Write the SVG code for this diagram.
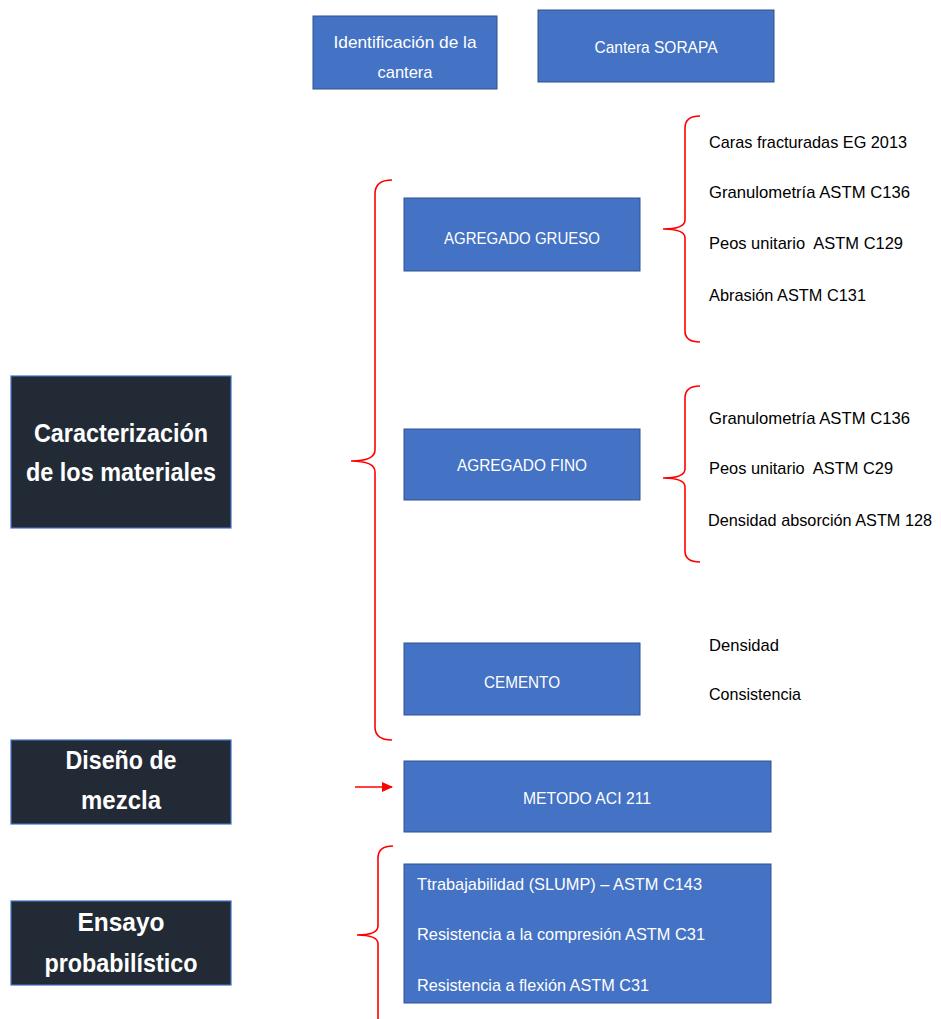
<svg xmlns="http://www.w3.org/2000/svg" width="941" height="1019" viewBox="0 0 941 1019">
<defs>
<style>
.bx{fill:#4472c4;stroke:#2f528f;stroke-width:1}
.dk{fill:#222a35;stroke:#4472c4;stroke-width:1.2}
.wt{font-family:"Liberation Sans",Arial,sans-serif;font-size:17px;fill:#ffffff;text-anchor:middle}
.wl{font-family:"Liberation Sans",Arial,sans-serif;font-size:17px;fill:#ffffff}
.bt{font-family:"Liberation Sans",Arial,sans-serif;font-size:17px;fill:#000000}
.hd{font-family:"Liberation Sans",Arial,sans-serif;font-size:26px;font-weight:bold;fill:#ffffff;text-anchor:middle}
.br{fill:none;stroke:#ff0000;stroke-width:1.6}
</style>
<marker id="ah" markerWidth="11" markerHeight="10" refX="10" refY="5" orient="auto" markerUnits="userSpaceOnUse">
<path d="M0,0 L11,5 L0,10 z" fill="#ff0000"/>
</marker>
</defs>
<rect width="941" height="1019" fill="#ffffff"/>

<g id="connectors">
<path class="br" d="M392,180 Q375,180 375,194 L375,450 Q375,461 351,461 Q375,461 375,472 L375,727 Q375,740 392,740"/>
<path class="br" d="M700,116 Q685,116 685,128 L685,220 Q685,229 663,229 Q685,229 685,238 L685,331 Q685,342 700,342"/>
<path class="br" d="M700,386 Q685,386 685,398 L685,469 Q685,478 663,478 Q685,478 685,487 L685,551 Q685,562 700,562"/>
<path class="br" d="M393,846 Q378,846 378,858 L378,926 Q378,935 357,935 Q378,935 378,944 L378,1019"/>
<line x1="355" y1="787" x2="392" y2="787" stroke="#ff0000" stroke-width="1.6" marker-end="url(#ah)"/>
</g>

<g id="n-identificacion">
<rect class="bx" x="313" y="16" width="184" height="73"/>
<text class="wt" x="405" y="48" textLength="143" lengthAdjust="spacingAndGlyphs">Identificación de la</text>
<text class="wt" x="405" y="78" textLength="55" lengthAdjust="spacingAndGlyphs">cantera</text>
</g>

<g id="n-sorapa">
<rect class="bx" x="538" y="10" width="236" height="72"/>
<text class="wt" x="656" y="53" textLength="123" lengthAdjust="spacingAndGlyphs">Cantera SORAPA</text>
</g>

<g id="n-caracterizacion">
<rect class="dk" x="11" y="376" width="220" height="152"/>
<text class="hd" x="121" y="442" textLength="174" lengthAdjust="spacingAndGlyphs">Caracterización</text>
<text class="hd" x="121" y="481" textLength="190" lengthAdjust="spacingAndGlyphs">de los materiales</text>
</g>

<g id="n-grueso">
<rect class="bx" x="404" y="198" width="236" height="73"/>
<text class="wt" x="522" y="244" textLength="156" lengthAdjust="spacingAndGlyphs">AGREGADO GRUESO</text>
</g>

<g id="t-grueso">
<text class="bt" x="709" y="148" textLength="198" lengthAdjust="spacingAndGlyphs">Caras fracturadas EG 2013</text>
<text class="bt" x="709" y="198" textLength="201" lengthAdjust="spacingAndGlyphs">Granulometría ASTM C136</text>
<text class="bt" x="709" y="249" textLength="194" lengthAdjust="spacingAndGlyphs">Peos unitario&#160; ASTM C129</text>
<text class="bt" x="709" y="301" textLength="157" lengthAdjust="spacingAndGlyphs">Abrasión ASTM C131</text>
</g>

<g id="n-fino">
<rect class="bx" x="404" y="429" width="236" height="71"/>
<text class="wt" x="522" y="471" textLength="130" lengthAdjust="spacingAndGlyphs">AGREGADO FINO</text>
</g>

<g id="t-fino">
<text class="bt" x="709" y="424" textLength="201" lengthAdjust="spacingAndGlyphs">Granulometría ASTM C136</text>
<text class="bt" x="709" y="474" textLength="184" lengthAdjust="spacingAndGlyphs">Peos unitario&#160; ASTM C29</text>
<text class="bt" x="708" y="526" textLength="224" lengthAdjust="spacingAndGlyphs">Densidad absorción ASTM 128</text>
</g>

<g id="n-cemento">
<rect class="bx" x="404" y="643" width="236" height="72"/>
<text class="wt" x="522" y="688" textLength="76" lengthAdjust="spacingAndGlyphs">CEMENTO</text>
</g>

<g id="t-cemento">
<text class="bt" x="709" y="651" textLength="70" lengthAdjust="spacingAndGlyphs">Densidad</text>
<text class="bt" x="709" y="700" textLength="92" lengthAdjust="spacingAndGlyphs">Consistencia</text>
</g>

<g id="n-diseno">
<rect class="dk" x="11" y="740" width="220" height="84"/>
<text class="hd" x="121" y="769" textLength="111" lengthAdjust="spacingAndGlyphs">Diseño de</text>
<text class="hd" x="121" y="809" textLength="80" lengthAdjust="spacingAndGlyphs">mezcla</text>
</g>

<g id="n-metodo">
<rect class="bx" x="404" y="761" width="367" height="71"/>
<text class="wt" x="587" y="804" textLength="128" lengthAdjust="spacingAndGlyphs">METODO ACI 211</text>
</g>

<g id="n-ensayo">
<rect class="dk" x="11" y="901" width="220" height="84"/>
<text class="hd" x="121" y="931" textLength="87" lengthAdjust="spacingAndGlyphs">Ensayo</text>
<text class="hd" x="121" y="972" textLength="153" lengthAdjust="spacingAndGlyphs">probabilístico</text>
</g>

<g id="n-pruebas">
<rect class="bx" x="404" y="864" width="367" height="139"/>
<text class="wl" x="417" y="890" textLength="285" lengthAdjust="spacingAndGlyphs">Ttrabajabilidad (SLUMP) – ASTM C143</text>
<text class="wl" x="417" y="940" textLength="288" lengthAdjust="spacingAndGlyphs">Resistencia a la compresión ASTM C31</text>
<text class="wl" x="417" y="991" textLength="232" lengthAdjust="spacingAndGlyphs">Resistencia a flexión ASTM C31</text>
</g>
</svg>
